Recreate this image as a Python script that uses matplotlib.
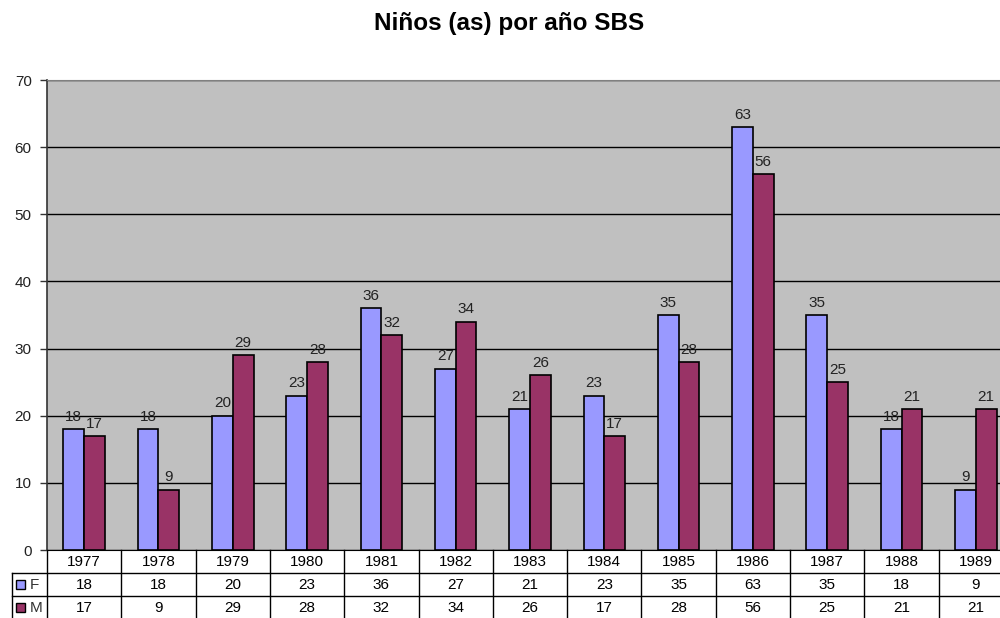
import matplotlib
matplotlib.use("Agg")
import matplotlib.pyplot as plt
from matplotlib.patches import Rectangle
import numpy as np

plt.rcParams['font.family'] = ['Liberation Sans', 'DejaVu Sans']

years = ['1977', '1978', '1979', '1980', '1981', '1982', '1983',
         '1984', '1985', '1986', '1987', '1988', '1989']
f_vals = [18, 18, 20, 23, 36, 27, 21, 23, 35, 63, 35, 18, 9]
m_vals = [17, 9, 29, 28, 32, 34, 26, 17, 28, 56, 25, 21, 21]
series = [('F', f_vals, '#9999FF'), ('M', m_vals, '#993366')]

fs = 11

fig = plt.figure(figsize=(10, 6.18), dpi=100)
# plot area runs past the right edge of the picture, like the original
ax = fig.add_axes([0.047, 0.110, 0.966, 0.7605])
ax.set_facecolor('#C0C0C0')

x = np.arange(len(years))
bw = 0.28
for k, (name, vals, col) in enumerate(series):
    pos = x + (k - 0.5) * bw
    ax.bar(pos, vals, bw, color=col, edgecolor='black', linewidth=1.2, zorder=3)
    for px, v in zip(pos, vals):
        ax.text(px, v + 0.8, str(v), ha='center', va='bottom',
                fontsize=fs, color='#222222', zorder=4)

ax.set_xlim(-0.5, len(years) - 0.5)
ax.set_ylim(0, 70)
ax.set_yticks(range(0, 71, 10))
ax.yaxis.grid(True, color='black', linewidth=1.0, zorder=1)
ax.set_axisbelow(True)
ax.set_xticks([])
ax.tick_params(axis='y', length=5, width=1, color='#333333', labelsize=fs,
               labelcolor='#222222', pad=6)
for side in ['top', 'right']:
    ax.spines[side].set_color('#808080')
ax.spines['left'].set_color('#333333')
ax.spines['left'].set_linewidth(1.2)
ax.spines['bottom'].set_color('black')

fig.suptitle('Niños (as) por año SBS', x=0.509, y=0.98, fontsize=17.5,
             fontweight='bold')

# data table under the axis
row_h = 23 / 470.0
key_left = -0.5 - 35 / 74.3
tr = ax.get_xaxis_transform()
lw = 1.0
for i in range(len(years) + 1):
    ax.plot([i - 0.5, i - 0.5], [0, -3 * row_h], transform=tr, color='black',
            lw=lw, clip_on=False)
ax.plot([key_left, key_left], [-row_h, -3 * row_h], transform=tr,
        color='black', lw=lw, clip_on=False)
for r in (1, 2, 3):
    ax.plot([key_left, len(years) - 0.5], [-r * row_h, -r * row_h],
            transform=tr, color='black', lw=lw, clip_on=False)

for i, yr in enumerate(years):
    ax.text(i, -0.5 * row_h, yr, transform=tr, ha='center', va='center',
            fontsize=fs, clip_on=False)
for r, (name, vals, col) in enumerate(series):
    yc = -(r + 1.5) * row_h
    for i, v in enumerate(vals):
        ax.text(i, yc, str(v), transform=tr, ha='center', va='center',
                fontsize=fs, clip_on=False)
    ax.add_patch(Rectangle((key_left + 0.05, yc - 0.0095), 0.12, 0.019,
                           transform=tr, facecolor=col, edgecolor='black',
                           lw=1.0, clip_on=False))
    ax.text(key_left + 0.24, yc, name, transform=tr, ha='left', va='center',
            fontsize=fs, color='#333333', clip_on=False)

fig.savefig('out.png', dpi=100)
